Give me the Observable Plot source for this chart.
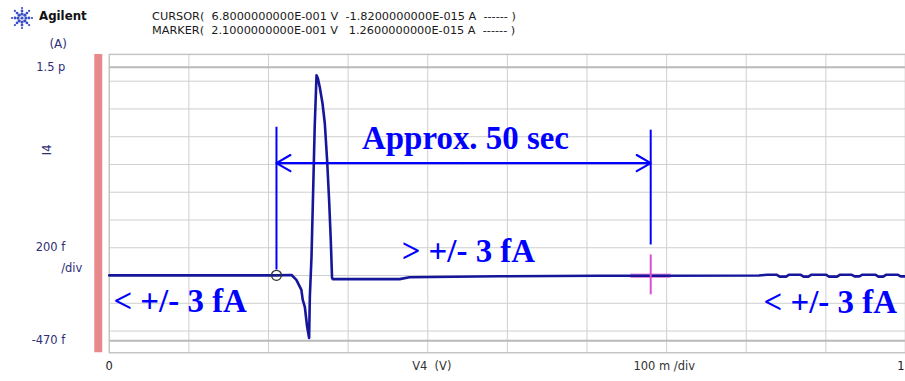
<!DOCTYPE html>
<html><head><meta charset="utf-8">
<script src="https://cdn.jsdelivr.net/npm/d3@7"></script>
<script src="https://cdn.jsdelivr.net/npm/@observablehq/plot@0.6"></script>
<style>
html,body{margin:0;padding:0;background:#fff;overflow:hidden;}
#wrap{position:relative;width:905px;height:381px;overflow:hidden;background:#fff;}
#chart{position:absolute;left:0;top:0;}
.hdr{position:absolute;font-family:"DejaVu Sans",sans-serif;color:#1a1a1a;white-space:pre;}
#logo{position:absolute;left:10px;top:6px;}
</style></head><body>
<div id="wrap">
<div id="chart"></div>
<svg id="logo" width="24" height="24" viewBox="-12 -12 24 24"></svg>
<div class="hdr" id="brand" style="left:39px;top:9px;font-weight:bold;font-size:11.8px;color:#111">Agilent</div>
<div class="hdr" id="readout" style="left:152px;top:10px;font-size:11.3px;line-height:14px"></div>
</div>
<script>
// ---- data ----
const voltage = [0, 0.1, 0.21, 0.229, 0.235, 0.2413, 0.243, 0.2456, 0.2485, 0.251, 0.2519, 0.254, 0.256, 0.258, 0.2603, 0.262, 0.2644, 0.2678, 0.2707, 0.2736, 0.2761, 0.2782, 0.2798, 0.2807, 0.3647, 0.377, 0.49, 0.615, 0.68, 0.816,
  0.826, 0.838, 0.842, 0.85, 0.854, 0.868, 0.872, 0.878, 0.882, 0.9, 0.904, 0.914, 0.918, 0.932, 0.936, 0.942, 0.946, 0.962, 0.966, 0.972, 0.976, 0.99, 0.994, 1.0];
const current = [1, 1, 1.26, 4, -31, -103, -175, -225, -369, -450, -154, 134, 594, 1068, 1442, 1420, 1356, 1241, 1097, 831, 544, 256, -17, -26, -26, -12, -5, -2, -1.82, 0,
  6, 6, -8, -8, 6, 6, -8, -8, 6, 6, -8, -8, 6, 6, -6, -6, 6, 6, -8, -8, 6, 6, -6, -6];
const xGrid = [0.1, 0.2, 0.3, 0.4, 0.5, 0.6, 0.7, 0.8, 0.9];
const yGrid = [-400, -200, 0, 200, 400, 600, 800, 1000, 1200, 1400];
const yLimits = [1500, -470];
const yTickValues = [1500, 200, -470];
const yTickLabels = ["1.5 p", "200 f", "-470 f"];
const xTickValues = [0, 1];
const xTickLabels = ["0", "1"];
const xAxisLabels = [{x: 0.405, text: "V4  (V)"}, {x: 0.697, text: "100 m /div"}];
const marker = {v: 0.21, i: 1.26};
const cursor = {v: 0.68, i: -1.82};
const readouts = [
  {name: "CURSOR", v: "6.8000000000E-001", i: "-1.8200000000E-015"},
  {name: "MARKER", v: "2.1000000000E-001", i: " 1.2600000000E-015"}
];
const notes = [
  {x: 0.4474, y: 986, text: "Approx. 50 sec"},
  {x: 0.451, y: 177, text: "> +/- 3 fA"},
  {x: 0.089, y: -190, text: "< +/- 3 fA"},
  {x: 0.9054, y: -197, text: "< +/- 3 fA"}
];
const spanStart = {x: 0.21, y1: 40, y2: 1068};
const spanEnd = {x: 0.68, y1: 220, y2: 1047};
const spanArrowY = 810;

// header
document.getElementById("readout").textContent = readouts.map(r => `${r.name}(  ${r.v} V  ${r.i} A  ------ )`).join("\n");
// logo: starburst of dots
(function(){
  const s = d3.select("#logo");
  for (let k = 0; k < 8; k++) {
    const a = k * Math.PI / 4;
    [[4, 1.6], [7, 1.4], [10, 1.1]].forEach(([r, rr]) => {
      s.append("circle").attr("cx", r * Math.cos(a)).attr("cy", r * Math.sin(a)).attr("r", rr).attr("fill", "#3a4fc4");
    });
  }
  s.append("circle").attr("r", 1.6).attr("fill", "#3a4fc4");
})();

const trace = voltage.map((v, k) => ({v, i: current[k]}));
const xTicks = xTickValues.map((x, k) => ({x, text: xTickLabels[k]}));
const blue = "#0000ff";
const navy = "#16169a";
const lab = "#2e2e78";

const chart = Plot.plot({
  width: 907, height: 381,
  marginLeft: 109, marginRight: 0, marginTop: 54, marginBottom: 28,
  style: {background: "transparent", fontFamily: "DejaVu Sans, sans-serif", fontSize: "11.5px", overflow: "visible"},
  x: {domain: [0, 1], axis: null},
  y: {domain: [-556, 1593], axis: null},
  marks: [
    Plot.ruleX(xGrid, {stroke: "#cfcfcf", strokeWidth: 1}),
    Plot.ruleY(yGrid, {stroke: "#cfcfcf", strokeWidth: 1}),
    Plot.ruleY(yLimits, {stroke: "#b9b9b9", strokeWidth: 2}),
    Plot.frame({stroke: "#c4c4c4", strokeWidth: 1.5}),
    Plot.ruleX([-0.0138], {stroke: "#e8898b", strokeWidth: 8}),
    // axis labels
    Plot.text(yTickValues, {y: d => d, text: (d, k) => yTickLabels[k], frameAnchor: "left", dx: -44, textAnchor: "end", fill: lab}),
    Plot.text(["/div"], {y: [55], text: d => d, frameAnchor: "left", dx: -27, textAnchor: "end", fill: lab}),
    Plot.text(["(A)"], {y: [1665], text: d => d, frameAnchor: "left", dx: -60, fill: lab, fontSize: 12}),
    Plot.text(["I4"], {y: [867], text: d => d, frameAnchor: "left", dx: -62, rotate: -90, fill: lab}),
    Plot.text(xTicks.slice(0, 1), {x: "x", text: "text", frameAnchor: "bottom", dy: 17, fill: "#222"}),
    Plot.text(xTicks.slice(1), {x: "x", text: "text", frameAnchor: "bottom", dy: 17, fill: "#222", textAnchor: "end", dx: -1}),
    Plot.text(xAxisLabels, {x: "x", text: "text", frameAnchor: "bottom", dy: 17, fill: "#333"}),
    // cursor cross (horizontal part behind trace)
    Plot.ruleY([cursor.i], {x1: cursor.v - 0.025, x2: cursor.v + 0.0255, stroke: "#e58ae0", strokeWidth: 4.5}),
    // trace
    Plot.line(trace, {x: "v", y: "i", stroke: navy, strokeWidth: 2.6, strokeLinejoin: "round"}),
    Plot.ruleX([cursor.v], {y1: -139, y2: 148, stroke: "#d84fd0", strokeWidth: 2}),
    // marker
    Plot.dot([marker], {x: "v", y: "i", r: 5, stroke: "#333", strokeWidth: 1.3, fill: "none"}),
    Plot.dot([marker], {x: "v", y: "i", r: 1, fill: "#333"}),
    // annotations
    Plot.ruleX([spanStart], {x: "x", y1: "y1", y2: "y2", stroke: blue, strokeWidth: 2}),
    Plot.ruleX([spanEnd], {x: "x", y1: "y1", y2: "y2", stroke: blue, strokeWidth: 2}),
    Plot.arrow([spanStart, spanEnd], {x1: (spanStart.x + spanEnd.x) / 2, y1: spanArrowY, x2: "x", y2: spanArrowY, stroke: blue, strokeWidth: 2.2, headLength: 11, bend: 0}),
    Plot.text(notes, {x: "x", y: "y", text: "text", fill: blue, fontFamily: "Liberation Serif, serif", fontWeight: "bold", fontSize: 33})
  ]
});
document.getElementById("chart").appendChild(chart);
</script>
</body></html>
